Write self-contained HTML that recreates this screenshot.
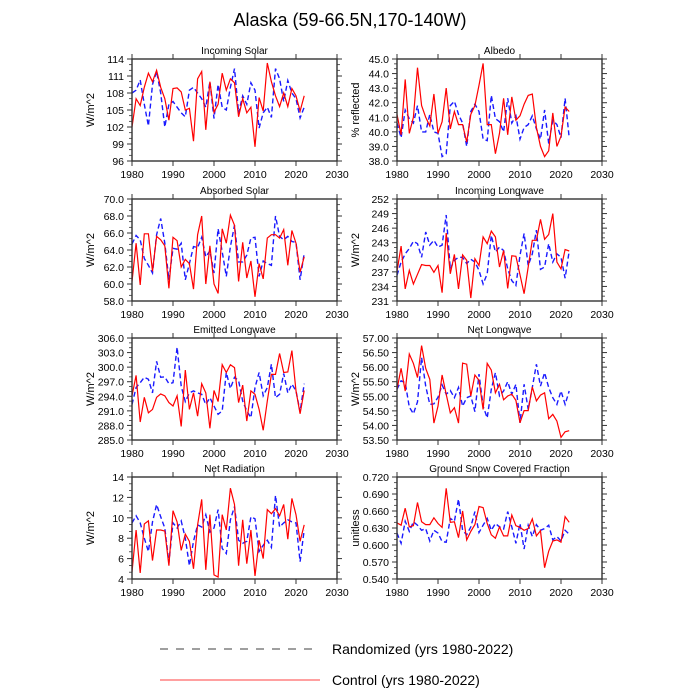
<!DOCTYPE html>
<html><head><meta charset="utf-8"><style>
html,body{margin:0;padding:0;background:#fff;}
svg{display:block;font-family:"Liberation Sans",sans-serif;}
</style></head><body>
<svg id="chart" width="700" height="700" viewBox="0 0 700 700">
<text x="350" y="26" text-anchor="middle" font-size="18">Alaska (59-66.5N,170-140W)</text>
<g id="panels"></g>
<g>
<line x1="160" y1="649" x2="320" y2="649" stroke="#000" stroke-width="0.8" stroke-dasharray="8,8"/>
<text x="332" y="654" font-size="14">Randomized (yrs 1980-2022)</text>
<line x1="160" y1="680" x2="320" y2="680" stroke="#ff0000" stroke-width="0.8"/>
<text x="332" y="685" font-size="14">Control (yrs 1980-2022)</text>
</g>
</svg>
<script>
const years = [];
for (let y = 1980; y <= 2022; y++) years.push(y);
const xTicks = [1980,1990,2000,2010,2020,2030];

const inSolarCtl = [102,107,105.8,109,111.5,110,112,109,107,103.2,108.8,108.9,108.2,105,105.3,99.5,110.5,111.8,101.5,110,104.6,106,111.5,108.5,110.5,109.8,103.8,107,104.5,105.5,98.5,107.2,104.8,113.3,110,107.5,105.6,108,105.6,108.8,107.5,104.8,107.5];
const inSolarRnd = [108,108.5,110.3,106,102.2,109.5,111.8,108,102,106,106.5,105.5,104.5,103.8,108.5,109,108,107,105.5,110,103.5,109.5,105.5,105,109,112.3,104.5,107.5,106,109.8,108.5,101.8,104.5,105.5,103.7,112.3,110.5,106.5,110.2,108,107,103.6,105.5];
const albedoCtl = [41.2,39.8,43.6,39.9,41.0,44.4,41.8,41,40.4,42.6,39.9,40.7,43.0,40.2,41.4,40.5,40.5,39.3,41.2,41.8,43.2,44.7,40.5,40.5,38.5,39.9,42.3,39.8,42.4,40.8,41.1,41.9,42.5,42.6,40.3,39.0,38.3,38.7,41.3,39.0,39.7,41.7,41.4];
const albedoRnd = [40.6,39.6,41.5,40.9,40.6,41.8,40.0,40,41.2,40,39.9,38.3,38.5,41.8,42.1,41.2,40.6,39.0,41.4,41.9,41.4,39.5,39.4,42.5,40.9,40.7,40.0,42.3,40.6,41.1,39.5,40.3,40.5,41.1,40.2,39.5,41.5,39.2,40.8,40.5,39.6,42.3,39.6];
const absSolarCtl = [60.3,64.8,59.9,65.9,65.9,61.5,65.6,65.2,64.5,59.5,65.5,65.1,62,62.9,62.4,59.4,65.8,68,60,64.5,60,58.9,66.5,64.8,68.1,66.9,60.3,64.9,60.7,62.7,58.5,62.4,60.6,65.4,65.8,65.8,65.4,66.4,62.2,66.3,64.8,61.4,63.2];
const absSolarRnd = [64.7,65.7,65.2,63,62.2,61.3,65.8,67.7,64.8,60.5,64.2,64.1,64.8,60.5,62.4,64.4,64.3,65.5,63.2,63.9,61.3,66.5,63.8,60.9,64.4,66.9,62.6,62.6,63.4,65.4,65.5,60.9,62.7,62.4,62.2,68,65.6,65.2,65.6,65,64.9,60.5,63.6];
const inLwCtl = [237.1,242.3,233.5,237.3,234.5,236.5,238.5,238.3,238.3,236.9,238.3,232.7,245,236.6,240.6,233.5,240.5,239.4,231.6,239.7,238.3,244.2,242.8,245.4,244.2,238,241.4,233.6,240.3,240.2,236.4,232.5,238,243.5,243.5,247.8,243.7,244.7,249,239,237.6,241.6,241.3];
const inLwRnd = [236.3,239,240.7,241.8,243.3,242.8,240,245.2,242.5,243.5,242.1,242.5,248.7,237.6,239.4,240,240,238.7,239.6,239,237.3,234.5,236.6,244.5,241.1,242.1,241.4,237.6,235.2,234.2,240.4,244.9,238.3,240.7,245.6,237.5,238,242.8,239,240.7,240,235.7,241.3];
const emLwCtl = [294.1,298.3,288.7,293.8,290.6,291.3,293.8,294.5,294.1,292.7,292,294.1,287.8,299.4,291.3,294.7,289.9,296.6,294.7,287.4,295.2,292.9,300.5,298.9,300.5,299.9,292.7,296.3,288.9,295.1,294.4,291.3,287,293,298.5,298.5,302.8,298.9,299,303.4,295.1,290.4,295.2];
const emLwRnd = [292.3,295.8,296.8,297.9,297.5,294.7,301.2,297.9,298,296.6,296.8,304.1,296.1,292.9,294.7,295.1,294.7,294.4,292.3,293.7,292,290.3,291,298.9,295.6,297.9,297.2,293,291,289.6,295.8,298.9,294.1,295.8,300.6,293.7,294.4,298.7,294.7,296.5,295.1,290.8,296.6];
const netLwCtl = [55.24,55.96,55.18,56.45,56.13,55.64,56.74,55.96,55.58,54.08,54.66,55.73,55.07,54.43,54.61,54.08,56.14,56.1,55.01,55.73,55.55,54.55,56.13,55.9,55.12,55.41,54.88,55.01,55.07,54.86,54.09,54.51,54.51,55.32,54.84,55.04,55.12,54.23,54.38,54.15,53.59,53.78,53.82];
const netLwRnd = [55.24,55.53,55.47,54.63,54.4,54.81,56.33,55.35,54.72,54.74,54.97,55.39,55.07,55.2,54.95,55.3,54.66,54.95,55.01,54.47,55.76,54.66,54.26,55.24,55.81,55.01,55.18,55.5,55.07,55.41,54.09,55.41,54.55,55.3,56.1,55.35,55.81,55.3,54.95,54.72,55.18,54.72,55.18];
const netRadCtl = [4.7,8.8,4.6,9.4,9.7,5.8,8.8,8.8,8.7,5.3,10.7,9.6,6.8,8.4,7.7,5,9.3,11.8,4.9,10.3,4.4,4.2,10.3,8.8,12.9,11.3,5.3,9.8,5.5,8.8,4.3,7.8,6,10.8,10.4,10.9,10.2,11.3,7.9,11.9,10.3,7.7,9.3];
const netRadRnd = [9.5,10.2,9.5,8,6.7,9.6,11.3,10.1,9,5.6,9.5,9,9.7,8,5.3,7.7,9.3,9.1,10.3,8.6,9,10.8,7,6.5,9.8,11.1,7.8,7.5,7.7,10.1,9.9,6.7,7.3,7.8,7.1,12.2,9.1,9.5,9.8,9.6,9.5,5.7,8.8];
const snowCtl = [0.639,0.635,0.665,0.632,0.634,0.675,0.641,0.636,0.636,0.648,0.638,0.631,0.700,0.640,0.641,0.613,0.660,0.609,0.624,0.636,0.668,0.666,0.638,0.618,0.612,0.632,0.616,0.616,0.653,0.634,0.631,0.626,0.629,0.646,0.616,0.625,0.560,0.589,0.607,0.609,0.605,0.650,0.640];
const snowRnd = [0.621,0.603,0.642,0.624,0.641,0.635,0.626,0.629,0.607,0.626,0.621,0.606,0.605,0.647,0.642,0.681,0.626,0.618,0.632,0.659,0.622,0.635,0.647,0.626,0.638,0.632,0.628,0.659,0.632,0.603,0.638,0.593,0.635,0.615,0.636,0.626,0.629,0.635,0.609,0.615,0.607,0.626,0.619];

const panelTitles = ["Incoming Solar","Albedo","Absorbed Solar","Incoming Longwave","Emitted Longwave","Net Longwave","Net Radiation","Ground Snow Covered Fraction"];
const yLabels = ["W/m^2","% reflected","W/m^2","W/m^2","W/m^2","W/m^2","W/m^2","unitless"];
const yMins = [96,38,58,231,285,53.5,4,0.54];
const yMaxs = [114,45,70,252,306,57,14,0.72];
const ySteps = [3,1,2,3,3,0.5,2,0.03];
const yDecimals = [0,1,1,0,1,2,0,3];
const ctlSeries = [inSolarCtl,albedoCtl,absSolarCtl,inLwCtl,emLwCtl,netLwCtl,netRadCtl,snowCtl];
const rndSeries = [inSolarRnd,albedoRnd,absSolarRnd,inLwRnd,emLwRnd,netLwRnd,netRadRnd,snowRnd];

const NS = "http://www.w3.org/2000/svg";
const root = document.getElementById('panels');
function mk(tag, attrs, parent){
  const e = document.createElementNS(NS, tag);
  for (const k in attrs) e.setAttribute(k, attrs[k]);
  parent.appendChild(e);
  return e;
}
const slugs = ["incoming-solar","albedo","absorbed-solar","incoming-longwave","emitted-longwave","net-longwave","net-radiation","snow-fraction"];
const PW = 205, PH = 102;
for (let i = 0; i < 8; i++) {
  const col = i % 2, row = Math.floor(i / 2);
  const L = col === 0 ? 132 : 397;
  const T = [59,199,338,477][row];
  const g = mk('g', {}, root);
  
  
  const xs = v => L + (v - 1980) / 50 * PW;
  const ys = v => T + PH - (v - yMins[i]) / (yMaxs[i] - yMins[i]) * PH;
  const title = mk('text', {x: L + PW/2, y: T - 5, 'text-anchor':'middle', 'font-size':10}, g);
  title.textContent = panelTitles[i];
  
  
  // y ticks
  const nT = Math.round((yMaxs[i] - yMins[i]) / ySteps[i]);
  for (let k = 0; k <= nT; k++) {
    const v = yMins[i] + k * ySteps[i];
    const y = ys(v);
    mk('line', {x1: L - 5, y1: y, x2: L, y2: y, stroke:'#333', 'stroke-width':1}, g);
    mk('line', {x1: L + PW, y1: y, x2: L + PW + 5, y2: y, stroke:'#333', 'stroke-width':1}, g);
    const t = mk('text', {x: L - 8, y: y + 4, 'text-anchor':'end', 'font-size':10.5}, g);
    t.textContent = v.toFixed(yDecimals[i]);
    
    
    if (k < nT) {
      for (let m = 1; m < 3; m++) {
        const ym = ys(v + ySteps[i] * m / 3);
        mk('line', {x1: L - 3, y1: ym, x2: L, y2: ym, stroke:'#333', 'stroke-width':0.8}, g);
        mk('line', {x1: L + PW, y1: ym, x2: L + PW + 3, y2: ym, stroke:'#333', 'stroke-width':0.8}, g);
      }
    }
  }
  // x ticks
  xTicks.forEach(v => {
    const x = xs(v);
    mk('line', {x1: x, y1: T + PH, x2: x, y2: T + PH + 5, stroke:'#333', 'stroke-width':1}, g);
    mk('line', {x1: x, y1: T - 5, x2: x, y2: T, stroke:'#333', 'stroke-width':1}, g);
    const t = mk('text', {x: x, y: T + PH + 17, 'text-anchor':'middle', 'font-size':10.5}, g);
    t.textContent = v;
    
    
  });
  const yl = mk('text', {x: 0, y: 0, 'text-anchor':'middle', 'font-size':11, transform: `translate(${L - 38},${T + PH/2}) rotate(-90)`}, g);
  yl.textContent = yLabels[i];
  
  
  const clipId = 'clip' + i;
  const cp = mk('clipPath', {id: clipId}, g);
  mk('rect', {x: L, y: T, width: PW, height: PH}, cp);
  const ptsR = rndSeries[i].map((v, j) => xs(years[j]).toFixed(1) + ',' + ys(v).toFixed(1)).join(' ');
  const pr = mk('polyline', {points: ptsR, fill:'none', stroke:'#1a1aff', 'stroke-width':1.4, 'stroke-dasharray':'5,3', 'clip-path': `url(#${clipId})`}, g);
  
  
  const ptsC = ctlSeries[i].map((v, j) => xs(years[j]).toFixed(1) + ',' + ys(v).toFixed(1)).join(' ');
  const pc = mk('polyline', {points: ptsC, fill:'none', stroke:'#ff0000', 'stroke-width':1.2, 'clip-path': `url(#${clipId})`}, g);
  
  
  const fr = mk('rect', {x: L, y: T, width: PW, height: PH, fill:'none', stroke:'#333', 'stroke-width':1.4}, g);
  
  
}
</script>
</body></html>
